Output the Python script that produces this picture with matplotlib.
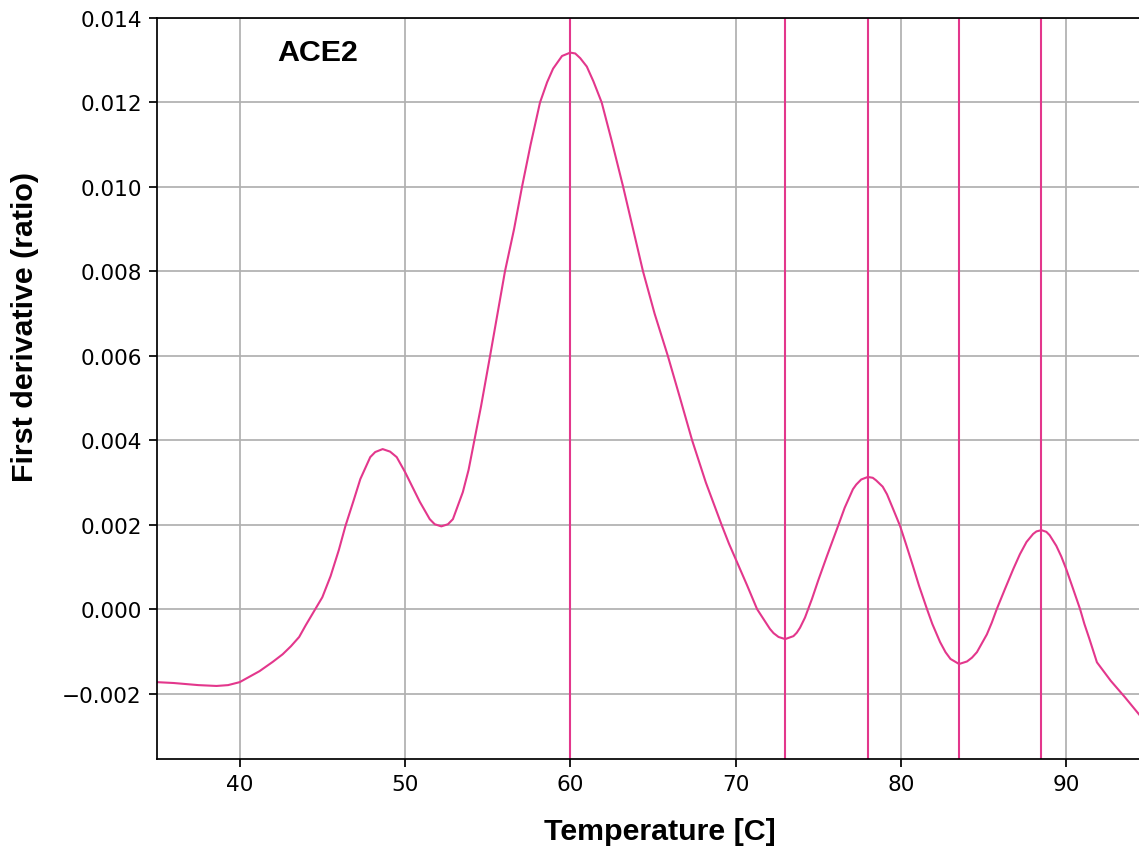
import numpy as np
import matplotlib
matplotlib.use("Agg")
import matplotlib.pyplot as plt
from matplotlib.ticker import FuncFormatter

# values
temperature = [35.0, 36.0, 37.5, 38.6, 39.3, 40.0, 41.2, 42.0, 42.6, 43.1,
               43.6, 44.0, 44.5, 45.0, 45.5, 46.0, 46.4, 46.9, 47.3, 47.9,
               48.2, 48.65, 49.1, 49.5, 50.0, 50.9, 51.5, 51.8, 52.2, 52.6,
               52.9, 53.5, 53.85, 54.2, 54.6, 55.15, 55.6, 56.05, 56.6, 57.08,
               57.6, 58.17, 58.6, 58.96, 59.5, 60.0, 60.3, 60.6, 61.0, 61.4,
               61.9, 62.5, 63.2, 63.8, 64.4, 65.1, 65.9, 66.64, 67.37, 68.2,
               69.18, 69.6, 70.09, 70.7, 71.3, 72.08, 72.3, 72.6, 73.0, 73.5,
               73.7, 73.9, 74.2, 74.62, 75.0, 75.53, 76.2, 76.6, 77.1, 77.3,
               77.6, 78.0, 78.3, 78.5, 78.9, 79.16, 79.5, 79.95, 80.3, 80.73,
               81.1, 81.58, 81.9, 82.37, 82.7, 83.0, 83.52, 84.0, 84.3, 84.6,
               85.2, 85.5, 85.8, 86.3, 86.8, 87.2, 87.6, 88.0, 88.2, 88.5,
               88.8, 89.0, 89.4, 89.7, 90.0, 90.4, 90.84, 91.1, 91.4, 91.86,
               92.7, 93.56, 94.4, 95.1]
derivative = [-0.00173, -0.00175, -0.00180, -0.00182, -0.00180, -0.00173, -0.00147, -0.00125, -0.00107, -0.00088,
              -0.00066, -0.00038, -0.00005, 0.00028, 0.00078, 0.00140, 0.00197, 0.00258, 0.00308, 0.00360,
              0.00372, 0.00379, 0.00373, 0.00360, 0.00325, 0.00254, 0.00213, 0.00201, 0.00196, 0.00201,
              0.00213, 0.00277, 0.00330, 0.00400, 0.00480, 0.00600, 0.00700, 0.00800, 0.00900, 0.01000,
              0.01100, 0.01200, 0.01248, 0.01280, 0.01310, 0.01318, 0.01316, 0.01305, 0.01285, 0.01250,
              0.01200, 0.01110, 0.01000, 0.00900, 0.00800, 0.00700, 0.00600, 0.00500, 0.00400, 0.00300,
              0.00197, 0.00155, 0.00111, 0.00056, 0.00000, -0.00047, -0.00057, -0.00066, -0.00071, -0.00064,
              -0.00056, -0.00044, -0.00020, 0.00024, 0.00068, 0.00126, 0.00197, 0.00240, 0.00284, 0.00295,
              0.00307, 0.00313, 0.00311, 0.00305, 0.00290, 0.00272, 0.00240, 0.00197, 0.00155, 0.00102,
              0.00055, 0.00000, -0.00035, -0.00078, -0.00102, -0.00118, -0.00130, -0.00124, -0.00115, -0.00102,
              -0.00060, -0.00032, 0.00000, 0.00048, 0.00095, 0.00130, 0.00159, 0.00178, 0.00184, 0.00187,
              0.00183, 0.00175, 0.00150, 0.00125, 0.00095, 0.00050, 0.00000, -0.00035, -0.00070, -0.00126,
              -0.00170, -0.00209, -0.00249, -0.00283]
peaks = [60.0, 73.0, 78.0, 83.5, 88.5]
label = "ACE2"

color = "#e3378c"
s = 1.56  # scale of the original figure

fig = plt.figure(figsize=(11.39, 8.53), dpi=100)
ax = fig.add_axes([157 / 1139, 93 / 853, 993 / 1139, 741 / 853])

ax.plot(temperature, derivative, color=color, lw=1.5)
for p in peaks:
    ax.axvline(p, color=color, lw=1.5)

ax.set_xlim(35, 95.07)
ax.set_ylim(-0.00355, 0.014)
ax.set_xticks([40, 50, 60, 70, 80, 90])
ax.set_yticks(np.arange(-0.002, 0.0141, 0.002))
ax.yaxis.set_major_formatter(FuncFormatter(lambda v, pos: f"{v:.3f}".replace("-", "\u2212")))
ax.grid(True, color="#b0b0b0", lw=0.8 * s)
ax.set_axisbelow(True)
for sp in ax.spines.values():
    sp.set_linewidth(0.8 * s)
ax.tick_params(labelsize=10 * s, length=3.5 * s, width=0.8 * s, pad=3.5 * s)

bold = dict(family="Liberation Sans", weight="bold", size=14 * s)
ax.set_xlabel("Temperature [C]", **bold)
ax.set_ylabel("First derivative (ratio)", **bold)
ax.xaxis.set_label_coords(0.5065, -0.0783)
ax.yaxis.set_label_coords(-0.119, 0.584)
ax.text(42.3, 0.0132, label, va="center", ha="left", **bold)

fig.savefig("out.png", dpi=100)
